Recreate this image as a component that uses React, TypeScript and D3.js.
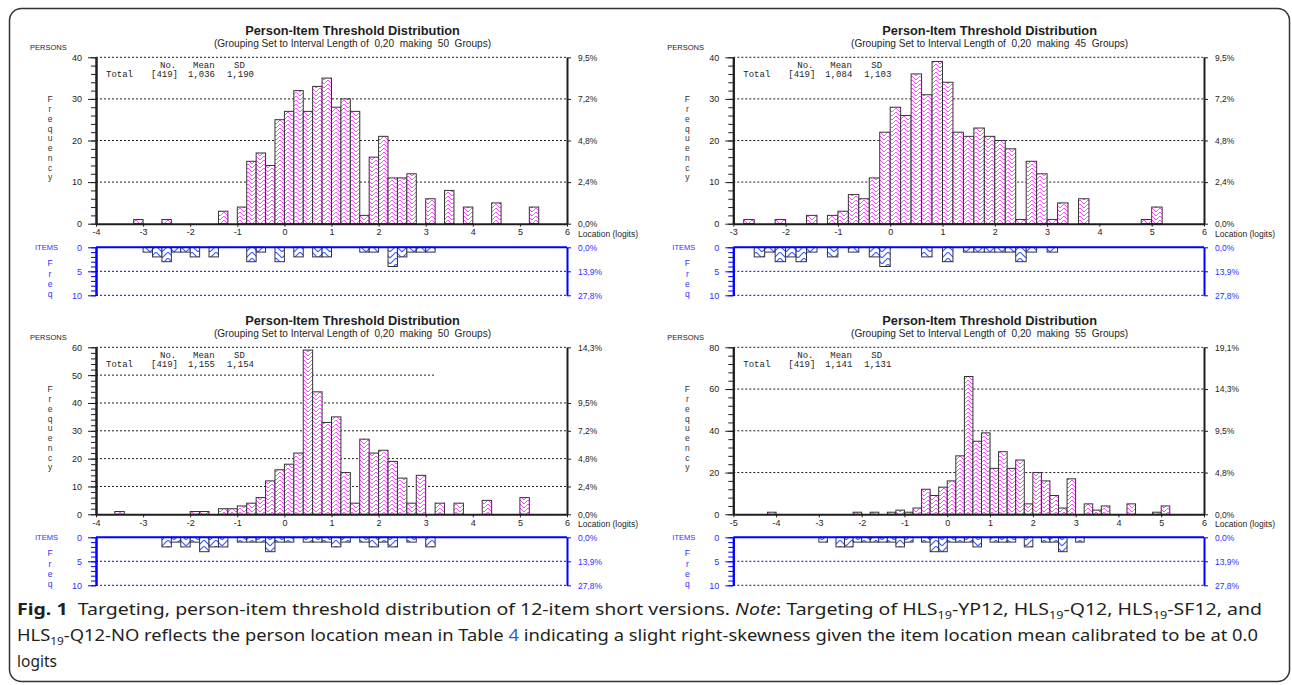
import React, { useEffect, useRef } from "react";
import * as d3 from "d3";

// counts per 0.2-logit group: [group start (logits), frequency]
const yp12Persons = [[-3.2, 1], [-2.6, 1], [-1.4, 3], [-1.0, 4], [-0.8, 15], [-0.6, 17], [-0.4, 14], [-0.2, 25], [0, 27], [0.2, 32], [0.4, 27], [0.6, 33], [0.8, 35], [1.0, 28], [1.2, 30], [1.4, 27], [1.6, 2], [1.8, 16], [2.0, 21], [2.2, 11], [2.4, 11], [2.6, 12], [3.0, 6], [3.4, 8], [3.8, 4], [4.4, 5], [5.2, 4]];
const yp12Items = [[-3.0, 1], [-2.8, 2], [-2.6, 3], [-2.4, 1], [-2.2, 1], [-2.0, 2], [-1.6, 2], [-0.8, 3], [-0.6, 1], [-0.2, 3], [0.2, 2], [0.6, 2], [0.8, 2], [1.6, 1], [1.8, 1], [2.2, 4], [2.4, 2], [2.6, 1], [2.8, 1], [3.0, 1]];

const q12Persons = [[-2.8, 1], [-2.2, 1], [-1.6, 2], [-1.2, 2], [-1.0, 3], [-0.8, 7], [-0.6, 6], [-0.4, 11], [-0.2, 22], [0, 28], [0.2, 26], [0.4, 36], [0.6, 31], [0.8, 39], [1.0, 34], [1.2, 22], [1.4, 21], [1.6, 23], [1.8, 21], [2.0, 20], [2.2, 18], [2.4, 1], [2.6, 15], [2.8, 12], [3.0, 1], [3.2, 5], [3.6, 6], [4.8, 1], [5.0, 4]];
const q12Items = [[-2.6, 2], [-2.4, 1], [-2.2, 3], [-2.0, 2], [-1.8, 3], [-1.6, 1], [-1.2, 2], [-0.8, 1], [-0.4, 2], [-0.2, 4], [0.6, 2], [1.0, 3], [1.4, 1], [1.6, 1], [1.8, 1], [2.0, 1], [2.2, 1], [2.4, 3], [2.6, 1], [3.0, 1]];

const sf12Persons = [[-3.6, 1], [-2.0, 1], [-1.8, 1], [-1.4, 2], [-1.2, 2], [-1.0, 3], [-0.8, 4], [-0.6, 6], [-0.4, 12], [-0.2, 16], [0, 18], [0.2, 22], [0.4, 59], [0.6, 44], [0.8, 33], [1.0, 35], [1.2, 15], [1.4, 4], [1.6, 27], [1.8, 22], [2.0, 23], [2.2, 19], [2.4, 13], [2.6, 4], [2.8, 14], [3.2, 4], [3.6, 4], [4.2, 5], [5.0, 6]];
const sf12Items = [[-2.6, 2], [-2.4, 1], [-2.2, 2], [-2.0, 1], [-1.8, 3], [-1.6, 2], [-1.4, 2], [-1.0, 1], [-0.8, 1], [-0.6, 1], [-0.4, 3], [-0.2, 1], [0, 1], [0.4, 1], [0.6, 1], [0.8, 1], [1.0, 2], [1.2, 1], [1.6, 1], [1.8, 2], [2.0, 1], [2.2, 2], [2.6, 1], [3.0, 2]];

const q12noPersons = [[-4.2, 1], [-2.2, 1], [-1.8, 1], [-1.4, 1], [-1.2, 2], [-1.0, 1], [-0.8, 3], [-0.6, 12], [-0.4, 9], [-0.2, 13], [0, 16], [0.2, 28], [0.4, 66], [0.6, 35], [0.8, 39], [1.0, 22], [1.2, 30], [1.4, 22], [1.6, 26], [1.8, 5], [2.0, 20], [2.2, 16], [2.4, 9], [2.6, 3], [2.8, 17], [3.2, 5], [3.4, 2], [3.6, 4], [4.2, 5], [4.8, 1], [5.0, 4]];
const q12noItems = [[-3.0, 1], [-2.6, 2], [-2.4, 2], [-2.2, 1], [-2.0, 1], [-1.8, 1], [-1.6, 1], [-1.4, 1], [-1.2, 2], [-1.0, 1], [-0.6, 1], [-0.4, 3], [-0.2, 3], [0, 1], [0.2, 1], [0.4, 1], [0.6, 2], [1.0, 1], [1.2, 1], [1.4, 1], [1.8, 2], [2.2, 1], [2.4, 1], [2.6, 3], [3.0, 1]];

const yp12Stats = ["[419]", "1,036", "1,190"];
const q12Stats = ["[419]", "1,084", "1,103"];
const sf12Stats = ["[419]", "1,155", "1,154"];
const q12noStats = ["[419]", "1,141", "1,131"];
const groupCounts = [50, 45, 50, 55];

const xTicksFrom4 = [-4, -3, -2, -1, 0, 1, 2, 3, 4, 5, 6];
const xTicksFrom3 = [-3, -2, -1, 0, 1, 2, 3, 4, 5, 6];
const xTicksFrom5 = [-5, -4, -3, -2, -1, 0, 1, 2, 3, 4, 5, 6];

const personTicks40 = [0, 10, 20, 30, 40];
const personTicks60 = [0, 10, 20, 30, 40, 50, 60];
const personTicks80 = [0, 20, 40, 60, 80];
const pctTicks40 = [0, 10, 20, 30, 40];
const pctLabels40 = ["0,0%", "2,4%", "4,8%", "7,2%", "9,5%"];
const pctTicks60 = [0, 10, 20, 30, 40, 60];
const pctLabels60 = ["0,0%", "2,4%", "4,8%", "7,2%", "9,5%", "14,3%"];
const pctTicks80 = [0, 20, 40, 60, 80];
const pctLabels80 = ["0,0%", "4,8%", "9,5%", "14,3%", "19,1%"];
const itemTicks = [0, 5, 10];
const itemPctLabels = ["0,0%", "13,9%", "27,8%"];

const SANS = "'Liberation Sans', Arial, sans-serif";
const MONO = "'Liberation Mono', 'Courier New', monospace";
const INK = "#1e1e1e";
const BLUE = "#0000ff";
const BLUE_TEXT = "#3030ff";

function drawPanel(svg, p) {
  const g = svg.append("g");
  const x = d3.scaleLinear().domain(p.domain).range([p.left, p.right]);
  const y = d3.scaleLinear().domain([0, p.yMax]).range([p.base, p.top]);
  const yi = d3.scaleLinear().domain([0, 10]).range([p.itemTop, p.itemBottom]);

  // titles (sit a little right of the plot centre)
  const cx = (p.left + p.right) / 2 + 21;
  g.append("text").attr("x", cx).attr("y", p.top - 22).attr("text-anchor", "middle")
    .attr("font-family", SANS).attr("font-weight", "bold").attr("font-size", 12.8).attr("fill", INK)
    .text("Person-Item Threshold Distribution");
  g.append("text").attr("x", cx).attr("y", p.top - 10).attr("text-anchor", "middle")
    .attr("font-family", SANS).attr("font-size", 10.1).attr("fill", INK).style("white-space", "pre")
    .text(`(Grouping Set to Interval Length of  0,20  making  ${p.groups}  Groups)`);

  // grid lines
  g.selectAll(".grid").data(p.leftTicks.filter(d => d > 0)).join("line").attr("class", "grid")
    .attr("x1", p.left).attr("x2", d => (d === p.partialValue ? x(p.partialTo) : p.right))
    .attr("y1", d => y(d)).attr("y2", d => y(d))
    .attr("stroke", INK).attr("stroke-width", 1).attr("stroke-dasharray", "2,2");
  g.selectAll(".igrid").data([5, 10]).join("line").attr("class", "igrid")
    .attr("x1", p.left).attr("x2", p.right).attr("y1", d => yi(d)).attr("y2", d => yi(d))
    .attr("stroke", BLUE).attr("stroke-width", 1).attr("stroke-dasharray", "2,2");

  // person bars
  g.selectAll(".pbar").data(p.persons).join("rect").attr("class", "pbar")
    .attr("x", d => x(d[0])).attr("width", d => x(d[0] + 0.2) - x(d[0]))
    .attr("y", d => y(d[1])).attr("height", d => p.base - y(d[1]))
    .attr("fill", "url(#personHatch)").attr("stroke", "#333").attr("stroke-width", 1);

  // item bars hanging down
  g.selectAll(".ibar").data(p.items).join("rect").attr("class", "ibar")
    .attr("x", d => x(d[0])).attr("width", d => x(d[0] + 0.2) - x(d[0]))
    .attr("y", p.itemTop).attr("height", d => yi(d[1]) - p.itemTop)
    .attr("fill", "url(#itemHatch)").attr("stroke", "#333").attr("stroke-width", 1);

  const styleAxis = (sel, color, size) => {
    sel.attr("font-family", SANS).attr("font-size", size).attr("color", color);
    sel.select(".domain").attr("stroke-width", 2);
  };

  // person axes
  g.append("g").attr("transform", `translate(${p.left},0)`)
    .call(d3.axisLeft(y).tickValues(d3.range(0, p.yMax + 0.001, p.minorStep)).tickSize(5).tickFormat(() => "").tickSizeOuter(0))
    .call(s => styleAxis(s, INK, 9));
  g.append("g").attr("transform", `translate(${p.left},0)`)
    .call(d3.axisLeft(y).tickValues(p.leftTicks).tickSize(8).tickPadding(6).tickSizeOuter(0))
    .call(s => styleAxis(s, INK, 9));
  g.append("g").attr("transform", `translate(${p.right},0)`)
    .call(d3.axisRight(y).tickValues(p.rightTicks).tickSize(4).tickPadding(7).tickSizeOuter(0)
      .tickFormat((d, i) => p.rightLabels[i]))
    .call(s => styleAxis(s, INK, 8.5));
  g.append("g").attr("transform", `translate(0,${p.base})`)
    .call(d3.axisBottom(x).tickValues(p.xTicks).tickSize(3).tickPadding(2).tickSizeOuter(0).tickFormat(d => String(d)))
    .call(s => styleAxis(s, INK, 9));

  // item axes
  g.append("line").attr("x1", p.left).attr("x2", p.right).attr("y1", p.itemTop).attr("y2", p.itemTop)
    .attr("stroke", BLUE).attr("stroke-width", 2);
  g.append("g").attr("transform", `translate(${p.left},0)`)
    .call(d3.axisLeft(yi).tickValues(d3.range(0, 10.001, 1)).tickSize(5).tickFormat(() => "").tickSizeOuter(0))
    .call(s => styleAxis(s, BLUE, 9));
  g.append("g").attr("transform", `translate(${p.left},0)`)
    .call(d3.axisLeft(yi).tickValues(itemTicks).tickSize(8).tickPadding(6).tickSizeOuter(0))
    .call(s => styleAxis(s, BLUE, 9)).selectAll("text").attr("fill", BLUE_TEXT);
  g.append("g").attr("transform", `translate(${p.right},0)`)
    .call(d3.axisRight(yi).tickValues(itemTicks).tickSize(4).tickPadding(7).tickSizeOuter(0)
      .tickFormat((d, i) => itemPctLabels[i]))
    .call(s => styleAxis(s, BLUE, 8.5)).selectAll("text").attr("fill", BLUE_TEXT);

  // labels
  g.append("text").attr("x", p.left - 66).attr("y", p.top - 7).attr("font-family", SANS)
    .attr("font-size", 7.5).attr("fill", INK).text("PERSONS");
  g.append("text").attr("x", p.right + 11).attr("y", p.base + 13).attr("font-family", SANS)
    .attr("font-size", 8.5).attr("fill", INK).text("Location (logits)");
  g.append("text").attr("x", p.left - 61).attr("y", p.itemTop + 2.5).attr("font-family", SANS)
    .attr("font-size", 7.5).attr("fill", BLUE_TEXT).text("ITEMS");
  g.selectAll(".flet").data("Frequency".split("")).join("text").attr("class", "flet")
    .attr("x", p.left - 46).attr("y", (d, i) => p.top + 45 + i * 9.75).attr("text-anchor", "middle")
    .attr("font-family", SANS).attr("font-size", 8.5).attr("fill", "#333").text(d => d);
  g.selectAll(".ilet").data("Freq".split("")).join("text").attr("class", "ilet")
    .attr("x", p.left - 46).attr("y", (d, i) => p.itemTop + 19 + i * 10.2).attr("text-anchor", "middle")
    .attr("font-family", SANS).attr("font-size", 8.5).attr("fill", BLUE_TEXT).text(d => d);

  // summary statistics
  const stat = (txt, dx, dy) => g.append("text").attr("x", p.left + dx).attr("y", p.top + dy)
    .attr("font-family", MONO).attr("font-size", 9).attr("fill", INK).text(txt);
  stat("No.", 64, 11); stat("Mean", 97, 11); stat("SD", 138, 11);
  stat("Total", 10, 20); stat(p.stats[0], 55, 20); stat(p.stats[1], 92, 20); stat(p.stats[2], 131, 20);
}

export default function App() {
  const ref = useRef(null);

  useEffect(() => {
    const svg = d3.select(ref.current);
    svg.selectAll("*").remove();

    const defs = svg.append("defs");
    const ph = defs.append("pattern").attr("id", "personHatch").attr("patternUnits", "userSpaceOnUse")
      .attr("width", 8).attr("height", 4);
    ph.append("rect").attr("width", 8).attr("height", 4).attr("fill", "#fff");
    ph.append("path").attr("d", "M0,0 L4,4 L8,0").attr("fill", "none").attr("stroke", "#ff3cff").attr("stroke-width", 0.9);
    const ih = defs.append("pattern").attr("id", "itemHatch").attr("patternUnits", "userSpaceOnUse")
      .attr("width", 12).attr("height", 6);
    ih.append("rect").attr("width", 12).attr("height", 6).attr("fill", "#fff");
    ih.append("path").attr("d", "M0,0 L6,6 L12,0").attr("fill", "none").attr("stroke", "#3a5cff").attr("stroke-width", 1.1);

    svg.append("rect").attr("x", 9.5).attr("y", 8.5).attr("width", 1280).attr("height", 673).attr("rx", 12)
      .attr("fill", "none").attr("stroke", "#333").attr("stroke-width", 1.5);

    const topRow = { top: 57.3, base: 223.7, itemTop: 247.3, itemBottom: 295.3 };
    const bottomRow = { top: 347.3, base: 514.3, itemTop: 537.3, itemBottom: 585.3 };
    const leftCol = { left: 96, right: 567 };
    const rightCol = { left: 733.3, right: 1204 };

    const panels = [
      { ...topRow, ...leftCol, domain: [-4, 6], xTicks: xTicksFrom4, yMax: 40, minorStep: 2, leftTicks: personTicks40,
        rightTicks: pctTicks40, rightLabels: pctLabels40, persons: yp12Persons, items: yp12Items, stats: yp12Stats, groups: groupCounts[0] },
      { ...topRow, ...rightCol, domain: [-3, 6], xTicks: xTicksFrom3, yMax: 40, minorStep: 2, leftTicks: personTicks40,
        rightTicks: pctTicks40, rightLabels: pctLabels40, persons: q12Persons, items: q12Items, stats: q12Stats, groups: groupCounts[1] },
      { ...bottomRow, ...leftCol, domain: [-4, 6], xTicks: xTicksFrom4, yMax: 60, minorStep: 2, leftTicks: personTicks60,
        rightTicks: pctTicks60, rightLabels: pctLabels60, persons: sf12Persons, items: sf12Items, stats: sf12Stats, groups: groupCounts[2],
        partialValue: 50, partialTo: 3.2 },
      { ...bottomRow, ...rightCol, domain: [-5, 6], xTicks: xTicksFrom5, yMax: 80, minorStep: 4, leftTicks: personTicks80,
        rightTicks: pctTicks80, rightLabels: pctLabels80, persons: q12noPersons, items: q12noItems, stats: q12noStats, groups: groupCounts[3] },
    ];
    panels.forEach(p => drawPanel(svg, p));

    // caption
    const CAP = "'Noto Sans', 'Open Sans', sans-serif";
    const lines = [
      { y: 615, len: 1245, parts: [
        { t: "Fig. 1", b: true }, { t: "  Targeting, person-item threshold distribution of 12-item short versions. " },
        { t: "Note", i: true }, { t: ": Targeting of HLS" }, { t: "19", sub: true }, { t: "-YP12, HLS" },
        { t: "19", sub: true }, { t: "-Q12, HLS" }, { t: "19", sub: true }, { t: "-SF12, and" }] },
      { y: 641, len: 1241, parts: [
        { t: "HLS" }, { t: "19", sub: true }, { t: "-Q12-NO reflects the person location mean in Table " },
        { t: "4", c: "#2f5fd0" }, { t: " indicating a slight right-skewness given the item location mean calibrated to be at 0.0" }] },
      { y: 667, parts: [{ t: "logits" }] },
    ];
    lines.forEach(l => {
      const t = svg.append("text").attr("x", 17).attr("y", l.y).attr("font-family", CAP).attr("font-size", 15.5)
        .attr("fill", "#231f20").style("white-space", "pre");
      if (l.len) t.attr("textLength", l.len).attr("lengthAdjust", "spacingAndGlyphs");
      let shifted = false;
      l.parts.forEach(pt => {
        const ts = t.append("tspan").text(pt.t);
        if (pt.b) ts.attr("font-weight", "bold");
        if (pt.i) ts.attr("font-style", "italic");
        if (pt.c) ts.attr("fill", pt.c);
        if (pt.sub) { ts.attr("font-size", 10).attr("dy", 4); shifted = true; }
        else if (shifted) { ts.attr("dy", -4); shifted = false; }
      });
    });
  }, []);

  return (
    <svg ref={ref} width={1292} height={685}
      style={{ position: "absolute", left: 0, top: 0, background: "#fff" }} />
  );
}
